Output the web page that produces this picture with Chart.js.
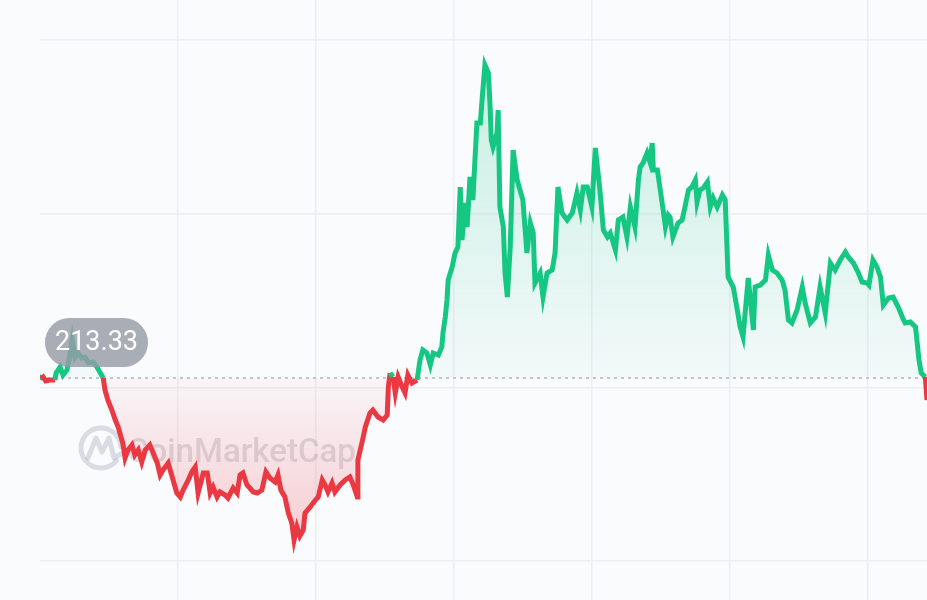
<!DOCTYPE html>
<html>
<head>
<meta charset="utf-8">
<script src="https://cdn.jsdelivr.net/npm/chart.js@4.4.1/dist/chart.umd.min.js"></script>
<style>
  html, body { margin: 0; padding: 0; background: #fafbfd; }
  #wrap { width: 927px; height: 600px; position: relative; }
</style>
</head>
<body>
<div id="wrap"><canvas id="chart" width="927" height="600"></canvas></div>
<script>
// price history, minutes since the first sample
const minutes = [
  0, 3, 10, 17, 26, 28, 35, 40, 47, 52, 56, 61, 66, 73, 78, 84, 92, 99, 104, 110,
  113, 118, 125, 131, 136, 144, 148, 153, 160, 165, 171, 177, 183, 191, 197, 204, 209, 214, 223, 230,
  238, 244, 249, 258, 264, 270, 275, 284, 291, 296, 301, 308, 313, 322, 327, 336, 343, 348, 353, 360,
  365, 371, 378, 386, 393, 400, 409, 414, 419, 426, 432, 438, 442, 447, 452, 458, 461, 470, 479, 484,
  491, 496, 501, 508, 513, 522, 531, 539, 545, 552, 553, 560, 566, 574, 579, 588, 597, 604, 606, 609,
  614, 618, 623, 630, 635, 640, 647, 656, 661, 666, 673, 679, 684, 693, 699, 701, 705, 708, 710, 717,
  722, 727, 731, 734, 740, 743, 748, 753, 760, 766, 769, 774, 780, 783, 785, 788, 795, 797, 800, 806,
  809, 813, 818, 823, 830, 835, 840, 847, 853, 858, 861, 870, 875, 882, 891, 896, 901, 908, 917, 926,
  934, 940, 945, 952, 960, 966, 974, 980, 987, 992, 1001, 1006, 1014, 1021, 1027, 1035, 1041, 1044, 1049, 1056,
  1061, 1065, 1067, 1074, 1079, 1084, 1088, 1093, 1096, 1101, 1110, 1117, 1122, 1128, 1134, 1140, 1143, 1148, 1154, 1161,
  1166, 1171, 1178, 1187, 1192, 1197, 1206, 1213, 1218, 1223, 1232, 1241, 1244, 1253, 1262, 1267, 1274, 1282, 1291, 1296,
  1302, 1308, 1317, 1326, 1331, 1340, 1349, 1357, 1366, 1375, 1383, 1392, 1401, 1406, 1415, 1423, 1430, 1439, 1442, 1449,
  1456, 1462, 1467, 1476, 1484, 1493, 1500, 1505, 1514, 1523, 1526, 1529, 1533, 1540, 1543
];
const prices = [
  213.13, 213.63, 213.03, 213.13, 213.13, 213.83, 214.43, 213.63, 214.13, 215.63, 217.13, 215.43, 215.83, 215.33, 215.43, 214.83, 214.93, 214.43, 213.93, 213.33,
  212.13, 211.13, 210.13, 209.13, 208.43, 206.83, 205.33, 206.13, 206.63, 205.63, 206.13, 204.93, 206.13, 206.63, 205.83, 204.83, 203.63, 204.13, 204.83, 203.43,
  201.83, 201.43, 202.13, 203.13, 203.93, 204.43, 201.83, 203.83, 203.83, 201.83, 202.43, 201.43, 201.93, 201.63, 201.33, 202.33, 201.83, 203.63, 203.83, 202.63,
  202.33, 201.93, 201.83, 202.13, 203.93, 203.33, 202.93, 203.63, 202.13, 201.43, 199.83, 198.83, 197.13, 198.43, 197.53, 198.13, 199.83, 200.43, 201.13, 201.43,
  203.13, 202.63, 201.93, 202.83, 201.93, 202.63, 203.13, 203.43, 202.63, 201.43, 205.13, 206.83, 208.43, 209.83, 210.13, 209.43, 209.13, 209.63, 212.43, 213.83,
  213.43, 211.83, 213.43, 212.43, 211.83, 213.63, 212.83, 213.13, 215.13, 216.13, 215.83, 214.63, 215.83, 215.63, 216.43, 217.83, 219.43, 221.13, 223.13, 224.43,
  225.83, 226.43, 232.43, 227.13, 230.83, 228.43, 233.43, 231.13, 238.83, 238.83, 241.13, 244.63, 243.83, 240.43, 237.13, 236.43, 237.83, 240.13, 230.43, 228.43,
  223.83, 221.43, 226.43, 236.13, 233.13, 232.13, 231.13, 225.83, 228.83, 227.83, 222.83, 223.83, 221.43, 223.83, 224.13, 225.83, 232.43, 229.83, 229.13, 229.83,
  231.83, 230.13, 232.43, 232.43, 230.43, 236.33, 232.13, 228.13, 227.43, 227.83, 226.13, 229.13, 229.43, 227.43, 230.43, 228.43, 233.13, 234.43, 234.83, 235.83,
  234.93, 236.83, 234.13, 234.13, 232.13, 230.13, 228.43, 229.63, 229.43, 227.43, 228.83, 229.13, 230.43, 232.13, 232.43, 233.13, 230.93, 232.13, 232.33, 232.93,
  230.43, 231.33, 230.43, 231.63, 231.13, 223.43, 222.43, 220.13, 218.43, 217.43, 223.33, 218.13, 222.43, 222.63, 223.13, 225.63, 224.13, 223.83, 223.13, 222.13,
  219.13, 218.83, 220.13, 222.43, 220.83, 218.83, 219.43, 222.43, 219.83, 224.83, 224.13, 225.13, 225.93, 225.43, 224.83, 223.93, 222.93, 222.83, 222.63, 225.13,
  224.43, 223.43, 220.63, 221.33, 221.43, 220.43, 219.43, 218.83, 218.93, 218.43, 216.83, 215.13, 213.83, 213.43, 211.13
];
const openPrice = 213.33;
const xGridMinutes = [240, 480, 720, 960, 1200, 1440];
const yGridPrices = [247.13, 229.76, 212.40, 195.03];
const yMin = 191.13;
const yMax = 251.13;
const xMax = 1543;

const GREEN = '#16c784';
const RED = '#ea3943';

const canvas = document.getElementById('chart');
const ctx = canvas.getContext('2d');
const H = 600;
const basePx = H * (yMax - openPrice) / (yMax - yMin);

const greenFill = ctx.createLinearGradient(0, 60, 0, basePx);
greenFill.addColorStop(0, 'rgba(22,199,132,0.22)');
greenFill.addColorStop(1, 'rgba(22,199,132,0.03)');
const redFill = ctx.createLinearGradient(0, basePx, 0, 545);
redFill.addColorStop(0, 'rgba(234,57,67,0.03)');
redFill.addColorStop(1, 'rgba(234,57,67,0.24)');

const decorPlugin = {
  id: 'decor',
  beforeDatasetsDraw(chart) {
    const c = chart.ctx;
    const area = chart.chartArea;
    const by = chart.scales.y.getPixelForValue(openPrice);
    // watermark
    c.save();
    c.strokeStyle = 'rgba(150,156,170,0.32)';
    c.fillStyle = 'rgba(150,156,170,0.32)';
    c.lineWidth = 5;
    c.lineCap = 'round';
    c.lineJoin = 'round';
    c.beginPath();
    c.arc(101, 448, 20, Math.PI * 0.22, Math.PI * 1.98, false);
    c.stroke();
    c.beginPath();
    c.moveTo(88, 458);
    c.lineTo(96, 438);
    c.lineTo(102, 452);
    c.lineTo(109, 438);
    c.lineTo(114, 458);
    c.lineTo(121, 454);
    c.stroke();
    c.font = '500 33px Roboto, "Noto Sans", sans-serif';
    c.textBaseline = 'alphabetic';
    c.fillText('CoinMarketCap', 127, 462);
    c.restore();
    // dotted open-price line
    c.save();
    c.strokeStyle = '#c2c6ce';
    c.lineWidth = 2;
    c.setLineDash([3, 4]);
    c.beginPath();
    c.moveTo(area.left, by);
    c.lineTo(area.right, by);
    c.stroke();
    c.restore();
  },
  afterDatasetsDraw(chart) {
    const c = chart.ctx;
    c.save();
    const x = 45, y = 318, w = 103, h = 49, r = 24.5;
    c.fillStyle = 'rgba(150,155,166,0.82)';
    c.beginPath();
    c.roundRect(x, y, w, h, r);
    c.fill();
    c.fillStyle = '#ffffff';
    c.font = '400 27px Roboto, "Noto Sans", sans-serif';
    c.textAlign = 'center';
    c.textBaseline = 'middle';
    c.fillText(openPrice.toFixed(2), x + w / 2, y + h / 2 + 1);
    c.restore();
  }
};

new Chart(ctx, {
  type: 'line',
  data: {
    datasets: [{
      data: minutes.map((m, i) => ({ x: m, y: prices[i] })),
      borderColor: GREEN,
      borderWidth: 5,
      pointRadius: 0,
      tension: 0,
      fill: { target: { value: openPrice }, above: greenFill, below: redFill },
      segment: {
        borderColor: s => ((s.p0.parsed.y + s.p1.parsed.y) / 2 < openPrice ? RED : GREEN)
      }
    }]
  },
  options: {
    responsive: false,
    animation: false,
    layout: { padding: { left: 40, right: 0, top: 0, bottom: 0 } },
    plugins: { legend: { display: false }, tooltip: { enabled: false } },
    scales: {
      x: {
        type: 'linear',
        min: 0,
        max: xMax,
        afterBuildTicks: axis => { axis.ticks = xGridMinutes.map(v => ({ value: v })); },
        ticks: { display: false },
        border: { display: false },
        grid: { color: '#eceef3', lineWidth: 1.5, drawTicks: false }
      },
      y: {
        min: yMin,
        max: yMax,
        afterBuildTicks: axis => { axis.ticks = yGridPrices.map(v => ({ value: v })); },
        ticks: { display: false },
        border: { display: false },
        grid: { color: '#eceef3', lineWidth: 1.5, drawTicks: false }
      }
    }
  },
  plugins: [decorPlugin]
});
</script>
</body>
</html>
